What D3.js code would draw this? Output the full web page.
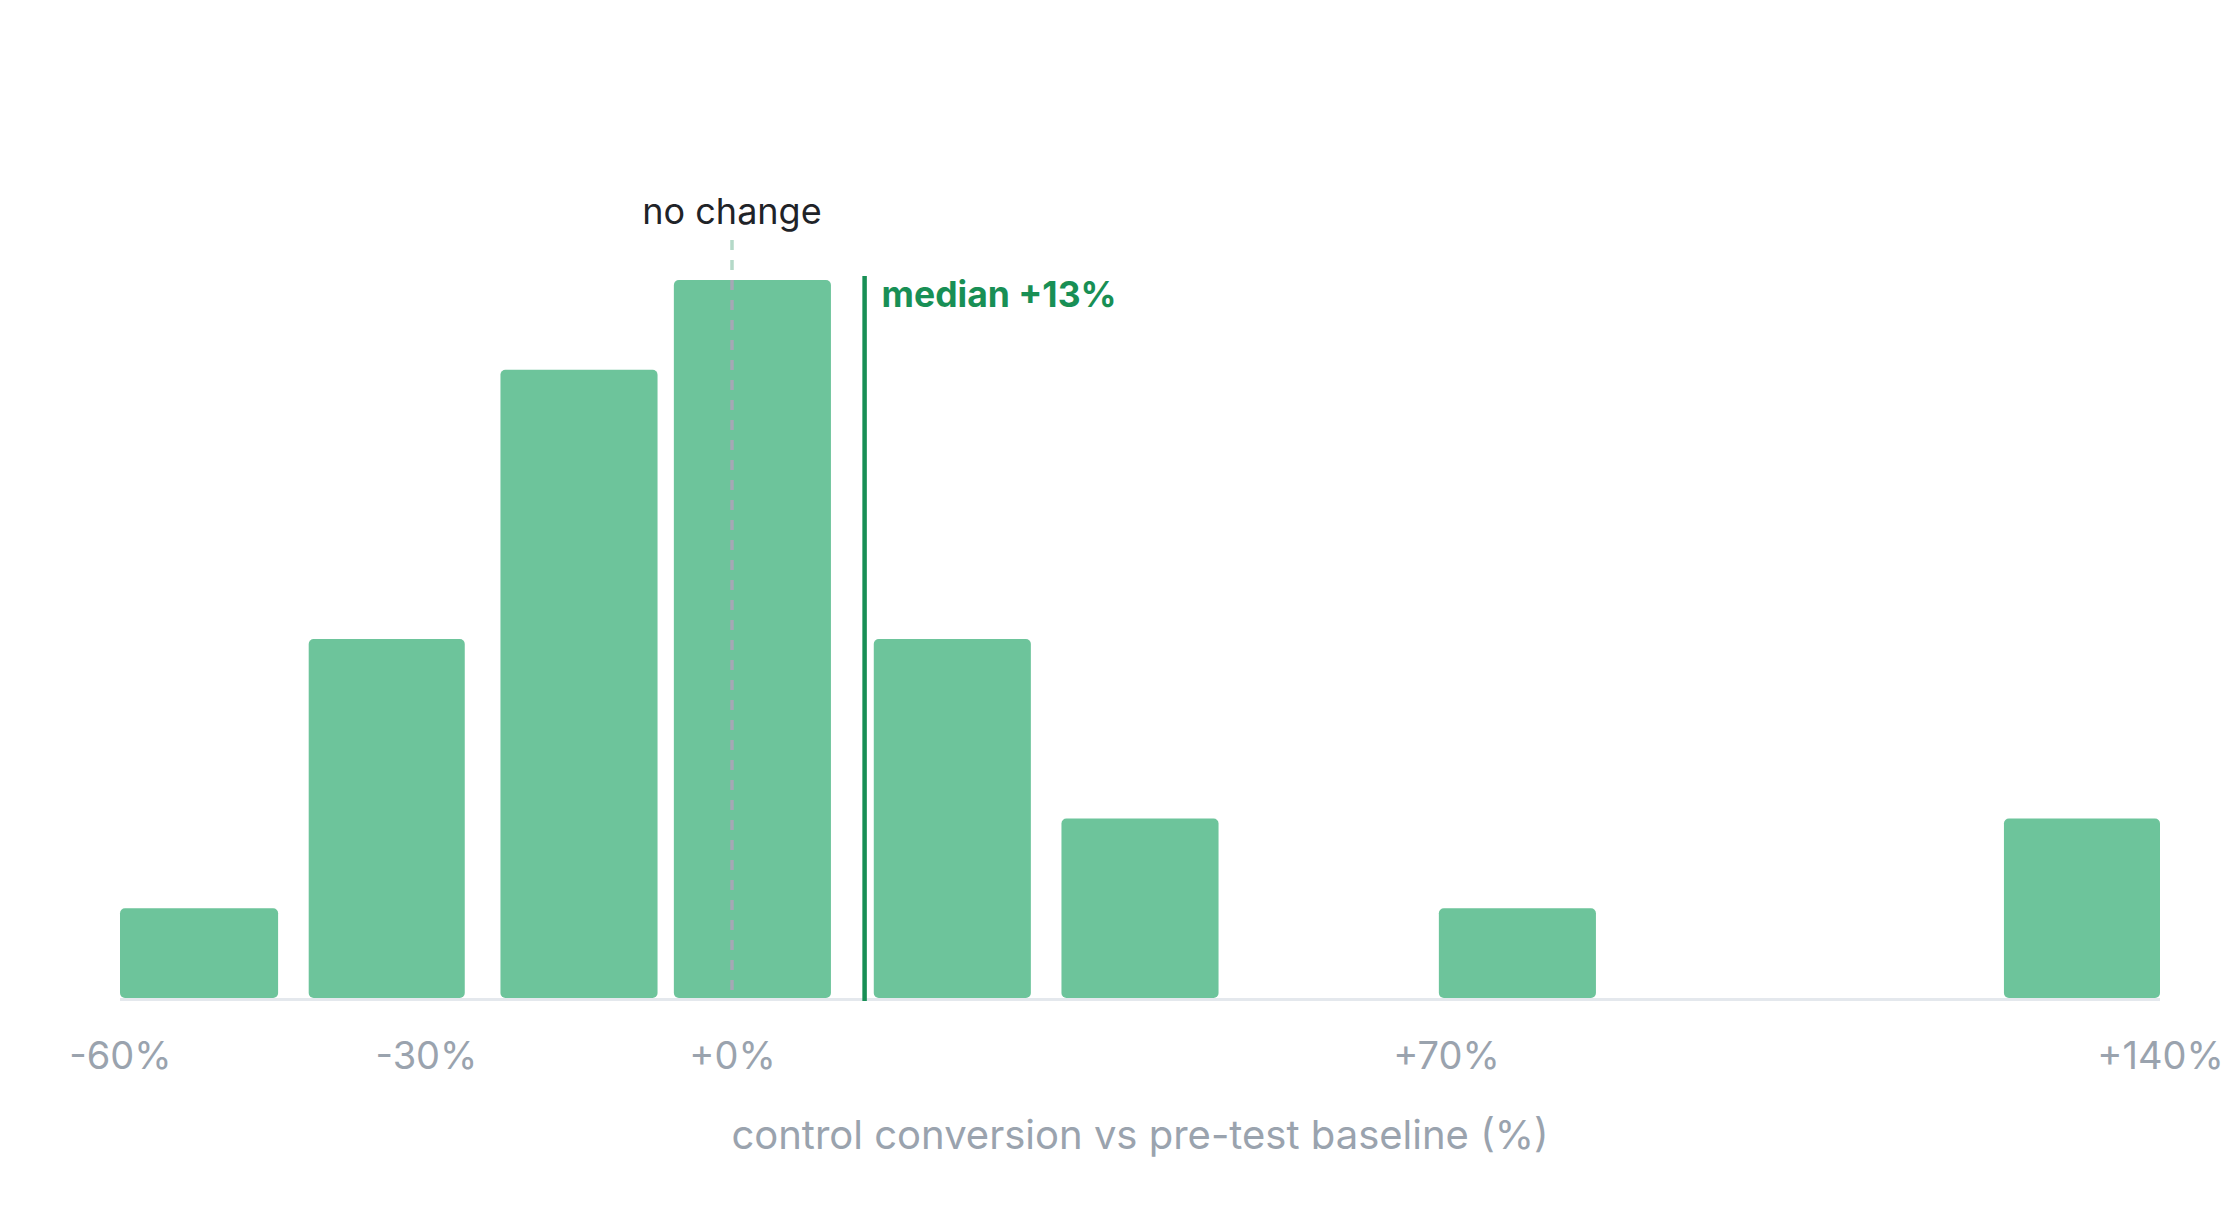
<!DOCTYPE html>
<html>
<head>
<meta charset="utf-8">
<script src="https://cdn.jsdelivr.net/npm/d3@7"></script>
<style>
  html, body { margin: 0; padding: 0; background: #fff; }
  svg { display: block; font-family: Inter, "Noto Sans", sans-serif; }
</style>
</head>
<body>
<svg id="chart" width="2240" height="1208"></svg>
<script>
// histogram bins, in % change vs pre-test baseline
const binLo = [-60, -41.5, -22.7, -5.7, 13.9, 32.3, 69.3, 124.7];
const binHi = [-44.5, -26.2, -7.3, 9.7, 29.3, 47.7, 84.7, 140];
const counts = [1, 4, 7, 8, 4, 2, 1, 2];
const tickVals = [-60, -30, 0, 70, 140];
const medianPct = 13;
const noChangePct = 0;

const svg = d3.select("#chart");

const x = d3.scaleLinear().domain([-60, 140]).range([120, 2160]);
const y = d3.scaleLinear().domain([0, d3.max(counts)]).range([998, 280]);

const bins = counts.map((c, i) => ({ lo: binLo[i], hi: binHi[i], n: c }));
const yTop = y(d3.max(counts));

const GREEN = "#6dc49b";
const DARK = "#188f55";
const GREY = "#9aa3ae";

// reference line behind bars (light)
svg.append("line")
  .attr("x1", x(noChangePct)).attr("x2", x(noChangePct))
  .attr("y1", yTop - 40).attr("y2", y(0))
  .attr("stroke", "#b4d9c8")
  .attr("stroke-width", 3.5)
  .attr("stroke-dasharray", "10 10");

svg.append("g").selectAll("rect")
  .data(bins)
  .join("rect")
  .attr("x", d => x(d.lo))
  .attr("width", d => x(d.hi) - x(d.lo))
  .attr("y", d => y(d.n))
  .attr("height", d => y(0) - y(d.n))
  .attr("rx", 5)
  .attr("fill", GREEN);

// same line again, greyer where it crosses the bar
const crossed = bins.find(d => d.lo <= noChangePct && d.hi >= noChangePct);
svg.append("defs").append("clipPath").attr("id", "barclip")
  .append("rect")
  .attr("x", x(crossed.lo)).attr("width", x(crossed.hi) - x(crossed.lo))
  .attr("y", y(crossed.n)).attr("height", y(0) - y(crossed.n));

svg.append("line")
  .attr("x1", x(noChangePct)).attr("x2", x(noChangePct))
  .attr("y1", yTop - 40).attr("y2", y(0) - 8)
  .attr("stroke", "#a5a8b5")
  .attr("stroke-width", 3.5)
  .attr("stroke-dasharray", "10 10")
  .attr("clip-path", "url(#barclip)");

// baseline
svg.append("line")
  .attr("x1", x(-60)).attr("x2", x(140))
  .attr("y1", y(0) + 1.5).attr("y2", y(0) + 1.5)
  .attr("stroke", "#e4e8ed")
  .attr("stroke-width", 3);

// median
svg.append("line")
  .attr("x1", x(medianPct)).attr("x2", x(medianPct))
  .attr("y1", yTop - 4).attr("y2", y(0) + 3)
  .attr("stroke", DARK)
  .attr("stroke-width", 4.5);

svg.append("text")
  .attr("x", x(medianPct) + 17)
  .attr("y", yTop + 27)
  .attr("fill", DARK)
  .style("font-size", "35.5px")
  .style("font-weight", 700)
  .text(`median +${medianPct}%`);

svg.append("text")
  .attr("x", x(noChangePct))
  .attr("y", yTop - 56)
  .attr("text-anchor", "middle")
  .attr("fill", "#1f2328")
  .style("font-size", "36px")
  .text("no change");

// x axis
const fmt = d => (d >= 0 ? "+" : "-") + Math.abs(d) + "%";
const ax = svg.append("g")
  .attr("transform", `translate(0,${y(0)})`)
  .call(d3.axisBottom(x).tickValues(tickVals).tickFormat(fmt).tickSize(0).tickPadding(0));
ax.select(".domain").remove();
ax.selectAll("text")
  .attr("y", 71)
  .attr("dy", 0)
  .attr("fill", GREY)
  .style("font-family", "Inter, sans-serif")
  .style("font-size", "38px");

svg.append("text")
  .attr("x", (x(-60) + x(140)) / 2)
  .attr("y", 1149)
  .attr("text-anchor", "middle")
  .attr("fill", GREY)
  .style("font-size", "40px")
  .text("control conversion vs pre-test baseline (%)");
</script>
</body>
</html>
